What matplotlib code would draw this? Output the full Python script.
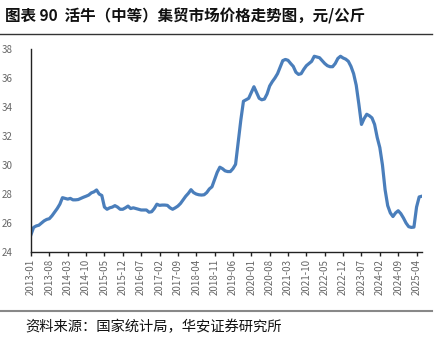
import matplotlib
matplotlib.use("Agg")
import matplotlib.pyplot as plt
import pandas as pd

plt.rcParams['font.family'] = ['Noto Sans CJK SC', 'DejaVu Sans']

# monthly price, yuan/kg, 2013-01 .. 2025-06
prices = [
    25.2, 25.7, 25.8, 25.85, 26.0, 26.15, 26.25, 26.3, 26.5, 26.75, 27.0, 27.3,      # 2013
    27.75, 27.7, 27.65, 27.7, 27.6, 27.6, 27.62, 27.7, 27.78, 27.85, 27.93, 28.08,  # 2014
    28.15, 28.28, 28.0, 27.9, 27.1, 26.95, 27.05, 27.1, 27.2, 27.1, 26.95, 26.95,   # 2015
    27.05, 27.17, 27.0, 27.05, 27.0, 26.95, 26.9, 26.9, 26.9, 26.75, 26.78, 27.0,   # 2016
    27.3, 27.22, 27.24, 27.24, 27.22, 27.05, 26.95, 27.05, 27.17, 27.35, 27.6, 27.85,  # 2017
    28.05, 28.3, 28.1, 28.0, 27.95, 27.93, 27.95, 28.1, 28.35, 28.5, 29.0, 29.5,    # 2018
    29.85, 29.75, 29.6, 29.55, 29.55, 29.75, 30.05, 31.6, 33.1, 34.4, 34.5, 34.6,   # 2019
    35.0, 35.4, 35.0, 34.6, 34.5, 34.55, 34.9, 35.45, 35.75, 36.0, 36.3, 36.75,     # 2020
    37.2, 37.28, 37.22, 37.0, 36.8, 36.4, 36.25, 36.3, 36.6, 36.85, 37.0, 37.15,    # 2021
    37.5, 37.45, 37.4, 37.2, 37.0, 36.85, 36.78, 36.78, 37.0, 37.35, 37.5, 37.38,   # 2022
    37.3, 37.15, 36.8, 36.3, 35.5, 34.2, 32.8, 33.2, 33.5, 33.4, 33.25, 32.8,       # 2023
    31.9, 31.2, 30.0, 28.3, 27.2, 26.7, 26.45, 26.7, 26.85, 26.65, 26.35, 26.0,     # 2024
    25.75, 25.7, 25.72, 27.1, 27.8, 27.85,                                          # 2025
]
months = pd.date_range("2013-01", periods=len(prices), freq="MS").strftime("%Y-%m").tolist()
tick_step = 7

fig = plt.figure(figsize=(4.44, 3.42), dpi=100)
ax = fig.add_axes([0.0698, 0.263, 0.8802, 0.5937])

x = list(range(len(prices)))
ax.plot(x, prices, color='#4a7ebb', linewidth=2.3, solid_joinstyle='round')

ax.set_xlim(0, len(prices) - 1)
ax.set_ylim(24, 38)
ax.set_yticks(range(24, 39, 2))
ticks = x[::tick_step]
ax.set_xticks(ticks)
ax.set_xticklabels([months[i] for i in ticks], rotation=90)

for s in ['top', 'right']:
    ax.spines[s].set_visible(False)
for s in ['left', 'bottom']:
    ax.spines[s].set_color('#222222')
    ax.spines[s].set_linewidth(1.0)
ax.tick_params(axis='y', length=0, pad=13, labelsize=7, labelcolor='#666666')
ax.tick_params(axis='x', length=3, width=1, color='#222222', pad=2,
               labelsize=7, labelcolor='#666666')

# title and source with rules
fig.text(0.012, 0.953, "图表 90  活牛（中等）集贸市场价格走势图，元/公斤",
         fontsize=11.2, fontweight='bold', color='#111111', va='center', ha='left')
fig.add_artist(plt.Line2D([0, 0.973], [0.902, 0.902], color='#333333', linewidth=1.0))
fig.add_artist(plt.Line2D([0, 0.973], [0.091, 0.091], color='#888888', linewidth=1.5))
fig.text(0.056, 0.045, "资料来源：国家统计局，华安证券研究所",
         fontsize=10.3, color='#111111', va='center', ha='left')

fig.savefig("out.png", dpi=100)
